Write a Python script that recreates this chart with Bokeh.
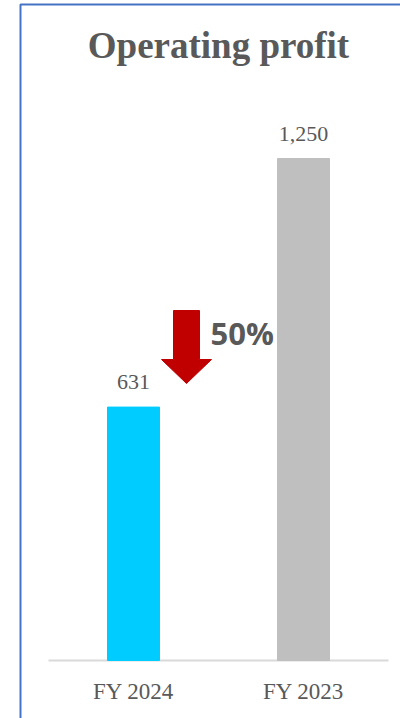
from bokeh.plotting import figure
from bokeh.models import Range1d, ColumnDataSource, BoxAnnotation, Label
from bokeh.core.properties import value
from bokeh.embed import file_html
from bokeh.resources import INLINE

# ---- data ----
categories = ["FY 2024", "FY 2023"]
profits = [631, 1250]
bar_colors = ["#00CCFF", "#BFBFBF"]
value_labels = [f"{v:,}" for v in profits]
change_pct = round((profits[1] - profits[0]) / profits[1] * 100)
title_text = "Operating profit"

# ---- layout (pixels) & styles ----
W, H = 400, 718
BASE_PX = 660           # canvas y of the zero line
FIRST_CAT_PX = 133      # canvas x of first category centre
PX_PER_CAT = 170
PX_PER_UNIT = 502 / 1250
TEXT_GRAY = "#595959"


def px2x(px):
    return 0.5 + (px - FIRST_CAT_PX) / PX_PER_CAT


def px2y(py):
    return (BASE_PX - py) / PX_PER_UNIT


x_pos = [i + 0.5 for i in range(len(categories))]
src = ColumnDataSource(dict(x=x_pos, cat=categories, val=profits, color=bar_colors,
                            label=value_labels))

p = figure(width=W, height=H, x_range=Range1d(px2x(0), px2x(W)),
           y_range=Range1d(px2y(H), px2y(0)), output_backend="svg", toolbar_location=None,
           min_border=0, min_border_left=0, min_border_right=0, min_border_top=0,
           min_border_bottom=0)
p.axis.visible = False
p.grid.visible = False
p.outline_line_color = None

# zero line spanning the category band
p.segment(x0=[0], y0=[0], x1=[len(categories)], y1=[0], line_color="#D9D9D9", line_width=2)

# bars
p.vbar(x="x", top="val", width=52 / PX_PER_CAT, color="color", source=src)

# value labels
p.text(x="x", y="val", text="label", source=src, text_align="center",
       text_baseline="alphabetic", y_offset=-25, text_font=value("Liberation Serif"),
       text_font_size="22px", text_color=TEXT_GRAY)

# category labels
p.text(x="x", y=0, text="cat", source=src, text_align="center",
       text_baseline="alphabetic", y_offset=31, text_font=value("Liberation Serif"),
       text_font_size="23px", text_color=TEXT_GRAY)

# title
p.add_layout(Label(x=len(categories) / 2, y=px2y(45), text=title_text, text_align="center",
                   text_baseline="alphabetic", text_font="Liberation Serif",
                   text_font_style="bold", text_font_size="37px", text_color=TEXT_GRAY))

# decrease arrow
ax = px2x(186)
sl, sr = px2x(173), px2x(199)
hl, hr = px2x(161), px2x(211)
st, hb, tip = px2y(310), px2y(359), px2y(383)
p.patch(x=[sl, sr, sr, hr, ax, hl, sl], y=[st, st, hb, hb, tip, hb, hb],
        fill_color="#C00000", line_color="#C00000", line_width=1)
p.add_layout(Label(x=px2x(210), y=px2y(332), text=f"{change_pct}%", text_align="left",
                   text_baseline="alphabetic", text_font="Open Sans", text_font_style="bold",
                   text_font_size="31px", text_color=TEXT_GRAY))

# outer blue frame (only left and top edges fall inside the picture)
p.add_layout(BoxAnnotation(left=px2x(20), top=px2y(4), right=px2x(W + 50), bottom=px2y(H + 50),
                           fill_color=None, line_color="#4472C4", line_alpha=1.0,
                           line_width=2))

open("out.html", "w").write(file_html(p, INLINE))
